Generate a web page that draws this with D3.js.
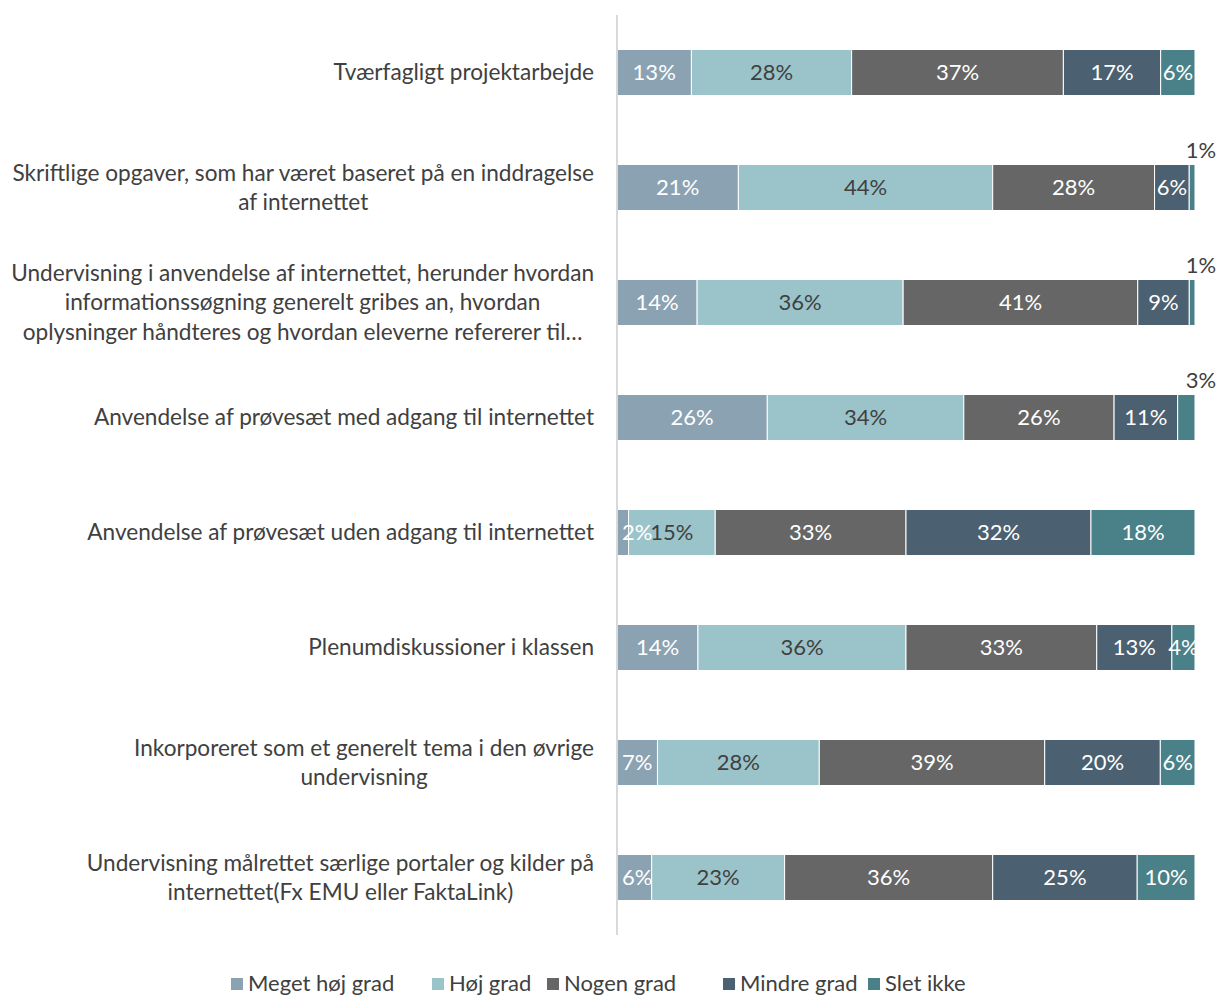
<!DOCTYPE html>
<head>
<meta charset="utf-8">
<script src="https://d3js.org/d3.v7.min.js"></script>
</head>
<body style="margin:0;background:#fff">
<style>
  * { font-family: Lato, "Open Sans", sans-serif; }
</style>
<div id="viz"></div>
<script>

// categories ("|" marks a line break as in the original)
var categories = [
  "Tværfagligt projektarbejde",
  "Skriftlige opgaver, som har været baseret på en inddragelse|af internettet",
  "Undervisning i anvendelse af internettet, herunder hvordan|informationssøgning generelt gribes an, hvordan|oplysninger håndteres og hvordan eleverne refererer til…",
  "Anvendelse af prøvesæt med adgang til internettet",
  "Anvendelse af prøvesæt uden adgang til internettet",
  "Plenumdiskussioner i klassen",
  "Inkorporeret som et generelt tema i den øvrige|undervisning",
  "Undervisning målrettet særlige portaler og kilder på|internettet(Fx EMU eller FaktaLink)"
];

var seriesNames = ["Meget høj grad", "Høj grad", "Nogen grad", "Mindre grad", "Slet ikke"];
var seriesColors = ["#8ba2b2", "#9bc4ca", "#666666", "#4b6070", "#4a8189"];
var labelColors = ["#ffffff", "#404040", "#ffffff", "#ffffff", "#ffffff"];

var megetHoj = [13, 21, 14, 26, 2, 14, 7, 6];
var hoj      = [28, 44, 36, 34, 15, 36, 28, 23];
var nogen    = [37, 28, 41, 26, 33, 33, 39, 36];
var mindre   = [17, 6, 9, 11, 32, 13, 20, 25];
var sletIkke = [6, 1, 1, 3, 18, 4, 6, 10];

var width = 1216, height = 997;

var svg = d3.select("#viz")
  .append("svg")
    .attr("width", width)
    .attr("height", height);

var data = categories.map(function(c, i) {
  return {cat: c, s0: megetHoj[i], s1: hoj[i], s2: nogen[i], s3: mindre[i], s4: sletIkke[i]};
});
var keys = ["s0", "s1", "s2", "s3", "s4"];

var stack = d3.stack().keys(keys).offset(d3.stackOffsetExpand);
var series = stack(data);

var x = d3.scaleLinear().domain([0, 1]).range([617, 1195]);
var y = d3.scaleBand().domain(categories).range([15, 935]).paddingInner(0.6).paddingOuter(0.3);

svg.append("clipPath").attr("id", "plotclip")
  .append("rect").attr("x", 617).attr("y", 0).attr("width", 578).attr("height", 940);

// bars
var groups = svg.selectAll("g.series")
  .data(series)
  .enter().append("g")
    .attr("class", "series")
    .attr("fill", function(d, i) { return seriesColors[i]; });

groups.selectAll("rect")
  .data(function(d) { return d; })
  .enter().append("rect")
    .attr("x", function(d) { return x(d[0]); })
    .attr("y", function(d) { return y(d.data.cat); })
    .attr("width", function(d) { return x(d[1]) - x(d[0]); })
    .attr("height", y.bandwidth())
    .attr("stroke", "#ffffff")
    .attr("stroke-width", 1);

// value labels
series.forEach(function(s, si) {
  s.forEach(function(d) {
    var val = d.data[keys[si]];
    var cx = (x(d[0]) + x(d[1])) / 2;
    var cy = y(d.data.cat) + y.bandwidth() / 2;
    var col = labelColors[si];
    var outside = (si == 4 && val <= 3);
    if (outside) {
      cx = x(d[1]) + 6;
      cy = y(d.data.cat) - 14;
      col = "#404040";
    }
    var t = svg.append("text")
      .attr("x", cx)
      .attr("y", cy)
      .attr("dy", "0.35em")
      .attr("text-anchor", "middle")
      .attr("fill", col)
      .style("font-size", "22px")
      .text(val + "%");
    if (!outside) {
      t.attr("clip-path", "url(#plotclip)");
      var w = t.node().getComputedTextLength();
      if (cx - w / 2 < x(0) + 5) t.attr("x", x(0) + 5 + w / 2);
    }
  });
});

// axis line
svg.append("line")
  .attr("x1", 617).attr("x2", 617)
  .attr("y1", 15).attr("y2", 935)
  .attr("stroke", "#d9d9d9")
  .attr("stroke-width", 2);

// category labels, lines centered, block right aligned
var lineH = 29.5;
categories.forEach(function(c) {
  var lines = c.split("|");
  var cy = y(c) + y.bandwidth() / 2;
  var t = svg.append("text")
    .attr("fill", "#404040")
    .style("font-size", "22.6px")
    .attr("text-anchor", "middle");
  var spans = lines.map(function(l, li) {
    return t.append("tspan")
      .attr("y", cy + (li - (lines.length - 1) / 2) * lineH)
      .attr("dy", "0.35em")
      .text(l);
  });
  var maxW = d3.max(spans, function(s) { return s.node().getComputedTextLength(); });
  spans.forEach(function(s) { s.attr("x", 594 - maxW / 2); });
});

// legend
var legendX = [231, 432, 547, 723, 868];
var legend = svg.append("g");
seriesNames.forEach(function(n, i) {
  legend.append("rect")
    .attr("x", legendX[i])
    .attr("y", 978)
    .attr("width", 12)
    .attr("height", 12)
    .attr("fill", seriesColors[i]);
  legend.append("text")
    .attr("x", legendX[i] + 17)
    .attr("y", 983)
    .attr("dy", "0.35em")
    .attr("fill", "#404040")
    .style("font-size", "22px")
    .text(n);
});
</script>
</body>
